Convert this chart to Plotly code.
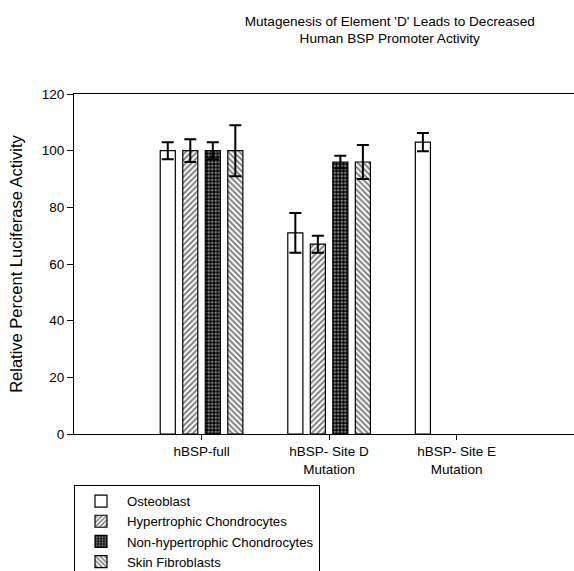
import plotly.graph_objects as go

categories = ["hBSP-full", "hBSP- Site D<br>Mutation", "hBSP- Site E<br>Mutation"]
series_names = ["Osteoblast", "Hypertrophic Chondrocytes", "Non-hypertrophic Chondrocytes", "Skin Fibroblasts"]
osteoblast = [100, 71, 103]
osteoblast_err = [3, 7, 3.2]
hypertrophic = [100, 67, None]
hypertrophic_err = [4, 3, None]
nonhypertrophic = [100, 96, None]
nonhypertrophic_err = [3, 2.2, None]
fibroblasts = [100, 96, None]
fibroblasts_err = [9, 6, None]

values = [osteoblast, hypertrophic, nonhypertrophic, fibroblasts]
errors = [osteoblast_err, hypertrophic_err, nonhypertrophic_err, fibroblasts_err]
patterns = [
    dict(shape=""),
    dict(shape="/", fgcolor="black", bgcolor="white", size=4, solidity=0.5),
    dict(shape=".", fgcolor="white", bgcolor="black", size=3.5, solidity=0.45),
    dict(shape="\\", fgcolor="black", bgcolor="white", size=4, solidity=0.5),
]

fig = go.Figure()
for name, v, e, p in zip(series_names, values, errors, patterns):
    fig.add_trace(go.Bar(
        x=categories, y=v, name=name,
        marker=dict(color="white", line=dict(color="black", width=1.2), pattern=p),
        error_y=dict(type="data", array=e, visible=True, color="black", thickness=2, width=6),
    ))

font = "Liberation Sans, Arial, sans-serif"
fig.update_layout(
    width=574, height=571,
    margin=dict(l=74, r=0, t=94, b=137, autoexpand=False),
    paper_bgcolor="white", plot_bgcolor="white",
    barmode="group", bargap=0.294, bargroupgap=0.33,
    font=dict(family=font, size=13, color="black"),
    title=dict(text="Mutagenesis of Element 'D' Leads to Decreased<br>Human BSP Promoter Activity",
               x=0.679, xref="container", xanchor="center", y=0.955, yanchor="top",
               font=dict(family=font, size=13.6, color="black")),
    showlegend=True,
    legend=dict(x=0, y=-0.15, xanchor="left", yanchor="top", xref="paper", yref="paper",
                bordercolor="black", borderwidth=1, bgcolor="white",
                font=dict(family=font, size=13.2, color="black"),
                itemwidth=42, tracegroupgap=0),
    xaxis=dict(range=[-1.0, 2.92], showline=True, linecolor="black", linewidth=1, mirror=True,
               ticks="outside", ticklen=5, tickcolor="black", showgrid=False,
               tickfont=dict(family=font, size=13.5)),
    yaxis=dict(range=[0, 120], dtick=20, showline=True, linecolor="black", linewidth=1,
               ticks="outside", ticklen=6, tickcolor="black", showgrid=False, zeroline=False,
               title=dict(text="Relative Percent Luciferase Activity", font=dict(family=font, size=16.5), standoff=14),
               tickfont=dict(family=font, size=13.5)),
)

fig.write_html("out.html")
